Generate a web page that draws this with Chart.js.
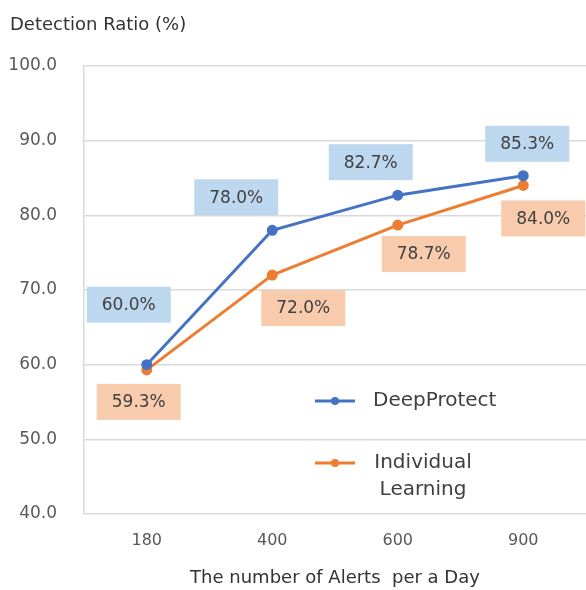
<!DOCTYPE html>
<html>
<head>
<meta charset="utf-8">
<script src="https://cdn.jsdelivr.net/npm/chart.js@4"></script>
<style>
  html, body { margin: 0; padding: 0; background: #fff; overflow: hidden; }
  canvas { display: block; }
</style>
</head>
<body>
<canvas id="c" width="586" height="590"></canvas>
<script>
// categories and series
var alertsPerDay = ['180', '400', '600', '900'];
var deepProtect = [60.0, 78.0, 82.7, 85.3];
var individualLearning = [59.3, 72.0, 78.7, 84.0];
var yTicks = [40, 50, 60, 70, 80, 90, 100];

var FONT = "'DejaVu Sans', sans-serif";
var BLUE = '#4472C4', ORANGE = '#ED7D31';

// where each data label box sits, relative to its point (Excel style manual placing)
var labelOffsets = [
  [[-18, -60], [-36, -33], [-27, -33], [4, -32]],
  [[-8, 32], [31, 33], [26, 29], [20, 33]]
];
var labelFills = ['#BDD7EE', '#F8CBAD'];

var boxLabels = {
  id: 'boxLabels',
  afterDatasetsDraw: function(chart){
    var ctx = chart.ctx;
    ctx.save();
    ctx.font = '17px ' + FONT;
    ctx.textAlign = 'center';
    ctx.textBaseline = 'middle';
    chart.data.datasets.forEach(function(ds, i){
      var meta = chart.getDatasetMeta(i);
      meta.data.forEach(function(pt, j){
        var cx = pt.x + labelOffsets[i][j][0];
        var cy = pt.y + labelOffsets[i][j][1];
        ctx.fillStyle = labelFills[i];
        ctx.fillRect(cx - 42, cy - 18, 84, 36);
        ctx.fillStyle = '#404040';
        ctx.fillText(ds.data[j].toFixed(1) + '%', cx, cy + 1);
      });
    });
    ctx.restore();
  }
};

var extras = {
  id: 'extras',
  afterDraw: function(chart){
    var ctx = chart.ctx;
    ctx.save();
    // y axis title, written horizontally at top left
    ctx.font = '18px ' + FONT;
    ctx.fillStyle = '#333333';
    ctx.textBaseline = 'middle';
    ctx.textAlign = 'left';
    ctx.fillText('Detection Ratio (%)', 10, 25);

    // legend inside the plot
    var rows = [{y: 401, lines: ['DeepProtect']}, {y: 463, lines: ['Individual', 'Learning']}];
    chart.data.datasets.forEach(function(ds, i){
      var y = rows[i].y;
      ctx.strokeStyle = ds.borderColor;
      ctx.lineWidth = 3;
      ctx.beginPath();
      ctx.moveTo(315, y); ctx.lineTo(355, y);
      ctx.stroke();
      ctx.fillStyle = ds.borderColor;
      ctx.beginPath();
      ctx.arc(335, y, 4, 0, Math.PI * 2);
      ctx.fill();
      ctx.fillStyle = '#404040';
      ctx.font = '20px ' + FONT;
      if (rows[i].lines.length == 1){
        ctx.textAlign = 'left';
        ctx.fillText(rows[i].lines[0], 373, y);
      } else {
        ctx.textAlign = 'center';
        rows[i].lines.forEach(function(t, k){
          ctx.fillText(t, 423, y + k * 27);
        });
      }
    });
    ctx.restore();
  }
};

new Chart(document.getElementById('c'), {
  type: 'line',
  data: {
    labels: alertsPerDay,
    datasets: [
      {label: 'DeepProtect', data: deepProtect, borderColor: BLUE, backgroundColor: BLUE,
       borderWidth: 3, pointRadius: 4, pointHoverRadius: 4, tension: 0},
      {label: 'Individual Learning', data: individualLearning, borderColor: ORANGE, backgroundColor: ORANGE,
       borderWidth: 3, pointRadius: 4, pointHoverRadius: 4, tension: 0}
    ]
  },
  options: {
    responsive: false,
    animation: false,
    layout: {autoPadding: false, padding: {top: 66, left: 8, right: 0, bottom: 0}},
    plugins: {legend: {display: false}, tooltip: {enabled: false}, title: {display: false}},
    scales: {
      x: {
        offset: true,
        grid: {display: false, drawTicks: false},
        border: {display: false},
        ticks: {color: '#595959', font: {family: FONT, size: 16}, padding: 17},
        title: {display: true, text: 'The number of Alerts  per a Day', color: '#333333',
                font: {family: FONT, size: 18}, padding: {top: 0, bottom: 1}},
        afterFit: function(s){ s.height = 76; s.paddingLeft = 0; s.paddingRight = 0; }
      },
      y: {
        min: 40, max: 100,
        afterBuildTicks: function(s){ s.ticks = yTicks.map(function(v){ return {value: v}; }); },
        grid: {color: '#D9D9D9', lineWidth: 1.5, drawTicks: false},
        border: {display: true, color: '#D9D9D9', width: 1.5},
        ticks: {color: '#595959', font: {family: FONT, size: 17}, padding: 27,
                callback: function(v){ return Number(v).toFixed(1); }},
        afterFit: function(s){ s.width = 76; }
      }
    }
  },
  plugins: [boxLabels, extras]
});
</script>
</body>
</html>
